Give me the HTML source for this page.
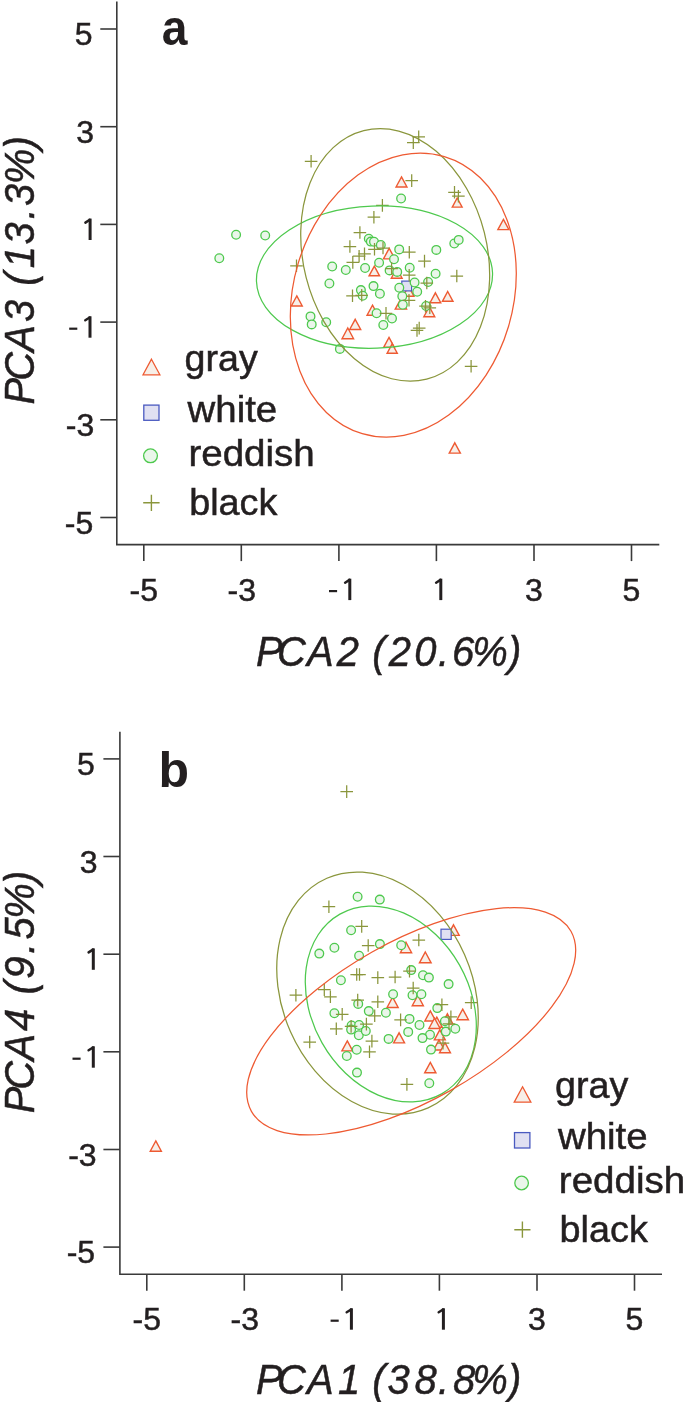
<!DOCTYPE html>
<html><head><meta charset="utf-8"><style>
html,body{margin:0;padding:0;background:#fff;}
body{width:685px;height:1402px;overflow:hidden;}
svg{display:block;will-change:transform;}
text{font-family:"Liberation Sans",sans-serif;fill:#231f20;}
.tk{font-size:32px;stroke:#231f20;stroke-width:0.5px;}
.lbl{font-size:50px;font-weight:bold;}
.ttl{font-size:42.5px;font-style:italic;stroke:#231f20;stroke-width:0.5px;}
.lg{font-size:36px;stroke:#231f20;stroke-width:0.5px;}
</style></head><body>
<svg width="685" height="1402" viewBox="0 0 685 1402">
<path d="M116.8 1.5V544.6H659.3" stroke="#3a3a3a" stroke-width="1.6" fill="none"/>
<path d="M100.3 517.5H116.8" stroke="#3a3a3a" stroke-width="1.6"/>
<path d="M143.8 544.6V561.1" stroke="#3a3a3a" stroke-width="1.6"/>
<path d="M100.3 419.8H116.8" stroke="#3a3a3a" stroke-width="1.6"/>
<path d="M241.3 544.6V561.1" stroke="#3a3a3a" stroke-width="1.6"/>
<path d="M100.3 322.1H116.8" stroke="#3a3a3a" stroke-width="1.6"/>
<path d="M338.9 544.6V561.1" stroke="#3a3a3a" stroke-width="1.6"/>
<path d="M100.3 224.4H116.8" stroke="#3a3a3a" stroke-width="1.6"/>
<path d="M436.4 544.6V561.1" stroke="#3a3a3a" stroke-width="1.6"/>
<path d="M100.3 126.7H116.8" stroke="#3a3a3a" stroke-width="1.6"/>
<path d="M534.0 544.6V561.1" stroke="#3a3a3a" stroke-width="1.6"/>
<path d="M100.3 29.0H116.8" stroke="#3a3a3a" stroke-width="1.6"/>
<path d="M631.5 544.6V561.1" stroke="#3a3a3a" stroke-width="1.6"/>
<text x="93.2" y="533.5" text-anchor="end" class="tk">-5</text>
<text x="143.8" y="600.5" text-anchor="middle" class="tk">-5</text>
<text x="94.2" y="435.8" text-anchor="end" class="tk">-3</text>
<text x="241.8" y="600.5" text-anchor="middle" class="tk">-3</text>
<path d="M88.50 316.30H91.50V337.70H88.50Z" fill="#231f20"/>
<path d="M89.70 317.50L85.30 320.30" stroke="#231f20" stroke-width="2.5" stroke-linecap="round" fill="none"/>
<rect x="69.20" y="327.60" width="8.1" height="2.2" fill="#231f20"/>
<path d="M348.30 578.70H351.30V600.10H348.30Z" fill="#231f20"/>
<path d="M349.50 579.90L345.10 582.70" stroke="#231f20" stroke-width="2.5" stroke-linecap="round" fill="none"/>
<rect x="329.00" y="590.00" width="8.1" height="2.2" fill="#231f20"/>
<path d="M88.60 218.60H91.60V240.00H88.60Z" fill="#231f20"/>
<path d="M89.80 219.80L85.40 222.60" stroke="#231f20" stroke-width="2.5" stroke-linecap="round" fill="none"/>
<path d="M439.30 578.70H442.30V600.10H439.30Z" fill="#231f20"/>
<path d="M440.50 579.90L436.10 582.70" stroke="#231f20" stroke-width="2.5" stroke-linecap="round" fill="none"/>
<text x="94.1" y="142.7" text-anchor="end" class="tk">3</text>
<text x="534.0" y="600.5" text-anchor="middle" class="tk">3</text>
<text x="92.6" y="45.0" text-anchor="end" class="tk">5</text>
<text x="631.5" y="600.5" text-anchor="middle" class="tk">5</text>
<text x="161.7" y="45" class="lbl" textLength="25.7" lengthAdjust="spacingAndGlyphs">a</text>
<text transform="scale(0.94 1)" x="272.33 294.80 326.74 358.30 368.30 395.93 413.46 440.57 465.98 480.77 502.37 540.46" y="666.3" class="ttl">PCA2 (20.6%)</text>
<text transform="translate(33.9 401.9) rotate(-90) scale(0.94 1)" x="-2.88 22.46 53.39 85.10 95.10 123.64 142.25 167.44 194.17 208.40 231.51 268.54" y="0" class="ttl">PCA3 (13.3%)</text>
<path d="M401.50 176.90L406.95 187.00L396.05 187.00Z" fill="#f7efe8" stroke="#ee5a32" stroke-width="1.4" stroke-linejoin="miter"/>
<path d="M457.20 198.00L462.11 207.10L452.29 207.10Z" fill="#f7efe8" stroke="#ee5a32" stroke-width="1.4" stroke-linejoin="miter"/>
<path d="M503.40 219.40L508.91 229.60L497.89 229.60Z" fill="#f7efe8" stroke="#ee5a32" stroke-width="1.4" stroke-linejoin="miter"/>
<path d="M447.70 291.50L452.99 301.30L442.41 301.30Z" fill="#f7efe8" stroke="#ee5a32" stroke-width="1.4" stroke-linejoin="miter"/>
<path d="M454.80 442.80L460.36 453.10L449.24 453.10Z" fill="#f7efe8" stroke="#ee5a32" stroke-width="1.4" stroke-linejoin="miter"/>
<path d="M296.80 295.90L302.25 306.00L291.35 306.00Z" fill="#f7efe8" stroke="#ee5a32" stroke-width="1.4" stroke-linejoin="miter"/>
<path d="M389.20 248.30L394.92 258.90L383.48 258.90Z" fill="#f7efe8" stroke="#ee5a32" stroke-width="1.4" stroke-linejoin="miter"/>
<path d="M374.30 266.10L379.54 275.80L369.06 275.80Z" fill="#f7efe8" stroke="#ee5a32" stroke-width="1.4" stroke-linejoin="miter"/>
<path d="M396.70 268.20L402.10 278.20L391.30 278.20Z" fill="#f7efe8" stroke="#ee5a32" stroke-width="1.4" stroke-linejoin="miter"/>
<path d="M400.90 298.60L406.57 309.10L395.23 309.10Z" fill="#f7efe8" stroke="#ee5a32" stroke-width="1.4" stroke-linejoin="miter"/>
<path d="M372.50 305.10L377.95 315.20L367.05 315.20Z" fill="#f7efe8" stroke="#ee5a32" stroke-width="1.4" stroke-linejoin="miter"/>
<path d="M355.20 319.30L360.71 329.50L349.69 329.50Z" fill="#f7efe8" stroke="#ee5a32" stroke-width="1.4" stroke-linejoin="miter"/>
<path d="M347.80 328.00L353.58 338.70L342.02 338.70Z" fill="#f7efe8" stroke="#ee5a32" stroke-width="1.4" stroke-linejoin="miter"/>
<path d="M389.00 337.40L394.35 347.30L383.65 347.30Z" fill="#f7efe8" stroke="#ee5a32" stroke-width="1.4" stroke-linejoin="miter"/>
<path d="M392.20 343.80L397.28 353.20L387.12 353.20Z" fill="#f7efe8" stroke="#ee5a32" stroke-width="1.4" stroke-linejoin="miter"/>
<path d="M435.40 292.80L440.75 302.70L430.05 302.70Z" fill="#f7efe8" stroke="#ee5a32" stroke-width="1.4" stroke-linejoin="miter"/>
<path d="M429.30 306.60L434.75 316.70L423.85 316.70Z" fill="#f7efe8" stroke="#ee5a32" stroke-width="1.4" stroke-linejoin="miter"/>
<path d="M408.50 286.10L413.95 296.20L403.05 296.20Z" fill="#f7efe8" stroke="#ee5a32" stroke-width="1.4" stroke-linejoin="miter"/>
<rect x="401.8" y="281.1" width="9.8" height="9.8" fill="#e0e0f2" stroke="#4a5ac0" stroke-width="1.2"/>
<circle cx="236.1" cy="234.8" r="4.35" fill="#eaf6ea" stroke="#4ec94e" stroke-width="1.3"/>
<circle cx="265.2" cy="235.5" r="4.35" fill="#eaf6ea" stroke="#4ec94e" stroke-width="1.3"/>
<circle cx="219.3" cy="258.3" r="4.35" fill="#eaf6ea" stroke="#4ec94e" stroke-width="1.3"/>
<circle cx="401.1" cy="198.5" r="4.35" fill="#eaf6ea" stroke="#4ec94e" stroke-width="1.3"/>
<circle cx="454.3" cy="243.5" r="4.35" fill="#eaf6ea" stroke="#4ec94e" stroke-width="1.3"/>
<circle cx="458.7" cy="239.9" r="4.35" fill="#eaf6ea" stroke="#4ec94e" stroke-width="1.3"/>
<circle cx="436.3" cy="249.9" r="4.35" fill="#eaf6ea" stroke="#4ec94e" stroke-width="1.3"/>
<circle cx="368.8" cy="238.8" r="4.35" fill="#eaf6ea" stroke="#4ec94e" stroke-width="1.3"/>
<circle cx="370.8" cy="241.6" r="4.35" fill="#eaf6ea" stroke="#4ec94e" stroke-width="1.3"/>
<circle cx="374.0" cy="241.8" r="4.35" fill="#eaf6ea" stroke="#4ec94e" stroke-width="1.3"/>
<circle cx="380.8" cy="245.0" r="4.35" fill="#eaf6ea" stroke="#4ec94e" stroke-width="1.3"/>
<circle cx="399.2" cy="249.4" r="4.35" fill="#eaf6ea" stroke="#4ec94e" stroke-width="1.3"/>
<circle cx="394.0" cy="259.2" r="4.35" fill="#eaf6ea" stroke="#4ec94e" stroke-width="1.3"/>
<circle cx="379.1" cy="262.7" r="4.35" fill="#eaf6ea" stroke="#4ec94e" stroke-width="1.3"/>
<circle cx="365.1" cy="268.0" r="4.35" fill="#eaf6ea" stroke="#4ec94e" stroke-width="1.3"/>
<circle cx="345.8" cy="270.0" r="4.35" fill="#eaf6ea" stroke="#4ec94e" stroke-width="1.3"/>
<circle cx="332.2" cy="266.5" r="4.35" fill="#eaf6ea" stroke="#4ec94e" stroke-width="1.3"/>
<circle cx="329.4" cy="283.5" r="4.35" fill="#eaf6ea" stroke="#4ec94e" stroke-width="1.3"/>
<circle cx="310.5" cy="316.4" r="4.35" fill="#eaf6ea" stroke="#4ec94e" stroke-width="1.3"/>
<circle cx="311.7" cy="324.4" r="4.35" fill="#eaf6ea" stroke="#4ec94e" stroke-width="1.3"/>
<circle cx="326.2" cy="322.3" r="4.35" fill="#eaf6ea" stroke="#4ec94e" stroke-width="1.3"/>
<circle cx="339.9" cy="348.9" r="4.35" fill="#eaf6ea" stroke="#4ec94e" stroke-width="1.3"/>
<circle cx="389.6" cy="270.4" r="4.35" fill="#eaf6ea" stroke="#4ec94e" stroke-width="1.3"/>
<circle cx="397.2" cy="271.9" r="4.35" fill="#eaf6ea" stroke="#4ec94e" stroke-width="1.3"/>
<circle cx="409.7" cy="267.7" r="4.35" fill="#eaf6ea" stroke="#4ec94e" stroke-width="1.3"/>
<circle cx="373.5" cy="286.1" r="4.35" fill="#eaf6ea" stroke="#4ec94e" stroke-width="1.3"/>
<circle cx="379.9" cy="293.7" r="4.35" fill="#eaf6ea" stroke="#4ec94e" stroke-width="1.3"/>
<circle cx="360.9" cy="290.1" r="4.35" fill="#eaf6ea" stroke="#4ec94e" stroke-width="1.3"/>
<circle cx="362.7" cy="295.8" r="4.35" fill="#eaf6ea" stroke="#4ec94e" stroke-width="1.3"/>
<circle cx="399.3" cy="287.8" r="4.35" fill="#eaf6ea" stroke="#4ec94e" stroke-width="1.3"/>
<circle cx="402.3" cy="296.2" r="4.35" fill="#eaf6ea" stroke="#4ec94e" stroke-width="1.3"/>
<circle cx="402.8" cy="304.8" r="4.35" fill="#eaf6ea" stroke="#4ec94e" stroke-width="1.3"/>
<circle cx="376.6" cy="313.3" r="4.35" fill="#eaf6ea" stroke="#4ec94e" stroke-width="1.3"/>
<circle cx="392.0" cy="318.5" r="4.35" fill="#eaf6ea" stroke="#4ec94e" stroke-width="1.3"/>
<circle cx="383.3" cy="325.0" r="4.35" fill="#eaf6ea" stroke="#4ec94e" stroke-width="1.3"/>
<circle cx="414.6" cy="282.5" r="4.35" fill="#eaf6ea" stroke="#4ec94e" stroke-width="1.3"/>
<circle cx="417.2" cy="291.7" r="4.35" fill="#eaf6ea" stroke="#4ec94e" stroke-width="1.3"/>
<circle cx="435.6" cy="273.8" r="4.35" fill="#eaf6ea" stroke="#4ec94e" stroke-width="1.3"/>
<circle cx="428.1" cy="282.0" r="4.35" fill="#eaf6ea" stroke="#4ec94e" stroke-width="1.3"/>
<circle cx="426.1" cy="306.0" r="4.35" fill="#eaf6ea" stroke="#4ec94e" stroke-width="1.3"/>
<path d="M304.8 161.3H317.4M311.1 155.0V167.6" stroke="#8a963c" stroke-width="1.25" fill="none"/>
<path d="M290.2 265.8H302.8M296.5 259.5V272.1" stroke="#8a963c" stroke-width="1.25" fill="none"/>
<path d="M407.0 142.6H419.6M413.3 136.3V148.9" stroke="#8a963c" stroke-width="1.25" fill="none"/>
<path d="M412.4 136.8H425.0M418.7 130.5V143.1" stroke="#8a963c" stroke-width="1.25" fill="none"/>
<path d="M405.4 180.6H418.0M411.7 174.3V186.9" stroke="#8a963c" stroke-width="1.25" fill="none"/>
<path d="M448.2 192.3H460.8M454.5 186.0V198.6" stroke="#8a963c" stroke-width="1.25" fill="none"/>
<path d="M452.1 196.2H464.7M458.4 189.9V202.5" stroke="#8a963c" stroke-width="1.25" fill="none"/>
<path d="M376.1 205.4H388.7M382.4 199.1V211.7" stroke="#8a963c" stroke-width="1.25" fill="none"/>
<path d="M367.6 217.2H380.2M373.9 210.9V223.5" stroke="#8a963c" stroke-width="1.25" fill="none"/>
<path d="M353.6 232.5H366.2M359.9 226.2V238.8" stroke="#8a963c" stroke-width="1.25" fill="none"/>
<path d="M343.6 246.5H356.2M349.9 240.2V252.8" stroke="#8a963c" stroke-width="1.25" fill="none"/>
<path d="M346.5 262.4H359.1M352.8 256.1V268.7" stroke="#8a963c" stroke-width="1.25" fill="none"/>
<path d="M352.8 256.2H365.4M359.1 249.9V262.5" stroke="#8a963c" stroke-width="1.25" fill="none"/>
<path d="M358.2 253.9H370.8M364.5 247.6V260.2" stroke="#8a963c" stroke-width="1.25" fill="none"/>
<path d="M368.2 249.3H380.8M374.5 243.0V255.6" stroke="#8a963c" stroke-width="1.25" fill="none"/>
<path d="M376.7 248.0H389.3M383.0 241.7V254.3" stroke="#8a963c" stroke-width="1.25" fill="none"/>
<path d="M403.0 252.2H415.6M409.3 245.9V258.5" stroke="#8a963c" stroke-width="1.25" fill="none"/>
<path d="M418.2 261.1H430.8M424.5 254.8V267.4" stroke="#8a963c" stroke-width="1.25" fill="none"/>
<path d="M450.5 276.0H463.1M456.8 269.7V282.3" stroke="#8a963c" stroke-width="1.25" fill="none"/>
<path d="M464.8 366.3H477.4M471.1 360.0V372.6" stroke="#8a963c" stroke-width="1.25" fill="none"/>
<path d="M385.3 268.6H397.9M391.6 262.3V274.9" stroke="#8a963c" stroke-width="1.25" fill="none"/>
<path d="M402.9 275.2H415.5M409.2 268.9V281.5" stroke="#8a963c" stroke-width="1.25" fill="none"/>
<path d="M346.2 295.8H358.8M352.5 289.5V302.1" stroke="#8a963c" stroke-width="1.25" fill="none"/>
<path d="M355.4 295.3H368.0M361.7 289.0V301.6" stroke="#8a963c" stroke-width="1.25" fill="none"/>
<path d="M402.7 300.3H415.3M409.0 294.0V306.6" stroke="#8a963c" stroke-width="1.25" fill="none"/>
<path d="M379.7 313.3H392.3M386.0 307.0V319.6" stroke="#8a963c" stroke-width="1.25" fill="none"/>
<path d="M420.5 283.0H433.1M426.8 276.7V289.3" stroke="#8a963c" stroke-width="1.25" fill="none"/>
<path d="M419.2 306.2H431.8M425.5 299.9V312.5" stroke="#8a963c" stroke-width="1.25" fill="none"/>
<path d="M423.5 307.8H436.1M429.8 301.5V314.1" stroke="#8a963c" stroke-width="1.25" fill="none"/>
<path d="M412.9 328.1H425.5M419.2 321.8V334.4" stroke="#8a963c" stroke-width="1.25" fill="none"/>
<path d="M410.7 330.4H423.3M417.0 324.1V336.7" stroke="#8a963c" stroke-width="1.25" fill="none"/>
<ellipse cx="374.5" cy="277.1" rx="118.1" ry="71.1" transform="rotate(-2.1 374.5 277.1)" fill="none" stroke="#4ec94e" stroke-width="1.25"/>
<ellipse cx="395.2" cy="254.9" rx="91.9" ry="128.2" transform="rotate(-14.2 395.2 254.9)" fill="none" stroke="#8a963c" stroke-width="1.25"/>
<ellipse cx="403.3" cy="295.1" rx="109.8" ry="144.5" transform="rotate(16.5 403.3 295.1)" fill="none" stroke="#ee5a32" stroke-width="1.25"/>
<path d="M151.45 359.20L159.87 374.80L143.03 374.80Z" fill="#f7efe8" stroke="#ee5a32" stroke-width="1.3" stroke-linejoin="miter"/>
<rect x="143.8" y="405.1" width="15.2" height="15.2" fill="#e0e0f2" stroke="#4a5ac0" stroke-width="1.3"/>
<circle cx="150.5" cy="455.8" r="6.9" fill="#eaf6ea" stroke="#4ec94e" stroke-width="1.3"/>
<path d="M143.2 502.8H159.6M151.4 494.7V510.9" stroke="#8a963c" stroke-width="1.4" fill="none"/>
<text x="184.6" y="371.1" class="lg" textLength="73.2" lengthAdjust="spacingAndGlyphs">gray</text>
<text x="187.6" y="421.8" class="lg" textLength="89.6" lengthAdjust="spacingAndGlyphs">white</text>
<text x="188.4" y="466.4" class="lg" textLength="126.4" lengthAdjust="spacingAndGlyphs">reddish</text>
<text x="189.2" y="515.4" class="lg" textLength="88.2" lengthAdjust="spacingAndGlyphs">black</text>
<path d="M119.9 731.7V1274.2H662.0" stroke="#3a3a3a" stroke-width="1.6" fill="none"/>
<path d="M103.4 1247.1H119.9" stroke="#3a3a3a" stroke-width="1.6"/>
<path d="M146.8 1274.2V1290.7" stroke="#3a3a3a" stroke-width="1.6"/>
<path d="M103.4 1149.5H119.9" stroke="#3a3a3a" stroke-width="1.6"/>
<path d="M244.3 1274.2V1290.7" stroke="#3a3a3a" stroke-width="1.6"/>
<path d="M103.4 1051.8H119.9" stroke="#3a3a3a" stroke-width="1.6"/>
<path d="M341.9 1274.2V1290.7" stroke="#3a3a3a" stroke-width="1.6"/>
<path d="M103.4 954.2H119.9" stroke="#3a3a3a" stroke-width="1.6"/>
<path d="M439.4 1274.2V1290.7" stroke="#3a3a3a" stroke-width="1.6"/>
<path d="M103.4 856.5H119.9" stroke="#3a3a3a" stroke-width="1.6"/>
<path d="M537.0 1274.2V1290.7" stroke="#3a3a3a" stroke-width="1.6"/>
<path d="M103.4 758.9H119.9" stroke="#3a3a3a" stroke-width="1.6"/>
<path d="M634.5 1274.2V1290.7" stroke="#3a3a3a" stroke-width="1.6"/>
<text x="95.1" y="1263.1" text-anchor="end" class="tk">-5</text>
<text x="146.8" y="1330.3" text-anchor="middle" class="tk">-5</text>
<text x="96.6" y="1165.5" text-anchor="end" class="tk">-3</text>
<text x="244.8" y="1330.3" text-anchor="middle" class="tk">-3</text>
<path d="M91.80 1046.30H94.80V1067.70H91.80Z" fill="#231f20"/>
<path d="M93.00 1047.50L88.60 1050.30" stroke="#231f20" stroke-width="2.5" stroke-linecap="round" fill="none"/>
<rect x="72.50" y="1057.60" width="8.1" height="2.2" fill="#231f20"/>
<path d="M349.90 1308.30H352.90V1329.70H349.90Z" fill="#231f20"/>
<path d="M351.10 1309.50L346.70 1312.30" stroke="#231f20" stroke-width="2.5" stroke-linecap="round" fill="none"/>
<rect x="330.60" y="1319.60" width="8.1" height="2.2" fill="#231f20"/>
<path d="M91.80 948.40H94.80V969.80H91.80Z" fill="#231f20"/>
<path d="M93.00 949.60L88.60 952.40" stroke="#231f20" stroke-width="2.5" stroke-linecap="round" fill="none"/>
<path d="M441.90 1308.30H444.90V1329.70H441.90Z" fill="#231f20"/>
<path d="M443.10 1309.50L438.70 1312.30" stroke="#231f20" stroke-width="2.5" stroke-linecap="round" fill="none"/>
<text x="97.5" y="872.5" text-anchor="end" class="tk">3</text>
<text x="537.0" y="1330.3" text-anchor="middle" class="tk">3</text>
<text x="94.8" y="774.9" text-anchor="end" class="tk">5</text>
<text x="634.5" y="1330.3" text-anchor="middle" class="tk">5</text>
<text x="158.6" y="786.9" class="lbl">b</text>
<path d="M155.80 1140.90L161.36 1151.20L150.24 1151.20Z" fill="#f7efe8" stroke="#ee5a32" stroke-width="1.4" stroke-linejoin="miter"/>
<path d="M406.00 942.30L411.62 952.70L400.38 952.70Z" fill="#f7efe8" stroke="#ee5a32" stroke-width="1.4" stroke-linejoin="miter"/>
<path d="M425.30 952.00L431.13 962.80L419.47 962.80Z" fill="#f7efe8" stroke="#ee5a32" stroke-width="1.4" stroke-linejoin="miter"/>
<path d="M453.50 924.80L459.22 935.40L447.78 935.40Z" fill="#f7efe8" stroke="#ee5a32" stroke-width="1.4" stroke-linejoin="miter"/>
<path d="M392.60 997.20L398.16 1007.50L387.04 1007.50Z" fill="#f7efe8" stroke="#ee5a32" stroke-width="1.4" stroke-linejoin="miter"/>
<path d="M417.80 995.40L423.36 1005.70L412.24 1005.70Z" fill="#f7efe8" stroke="#ee5a32" stroke-width="1.4" stroke-linejoin="miter"/>
<path d="M462.70 1009.10L468.42 1019.70L456.98 1019.70Z" fill="#f7efe8" stroke="#ee5a32" stroke-width="1.4" stroke-linejoin="miter"/>
<path d="M430.30 1010.90L435.75 1021.00L424.85 1021.00Z" fill="#f7efe8" stroke="#ee5a32" stroke-width="1.4" stroke-linejoin="miter"/>
<path d="M436.80 1017.10L442.25 1027.20L431.35 1027.20Z" fill="#f7efe8" stroke="#ee5a32" stroke-width="1.4" stroke-linejoin="miter"/>
<path d="M434.50 1018.10L440.12 1028.50L428.88 1028.50Z" fill="#f7efe8" stroke="#ee5a32" stroke-width="1.4" stroke-linejoin="miter"/>
<path d="M439.80 1029.80L445.25 1039.90L434.35 1039.90Z" fill="#f7efe8" stroke="#ee5a32" stroke-width="1.4" stroke-linejoin="miter"/>
<path d="M439.00 1040.00L444.40 1050.00L433.60 1050.00Z" fill="#f7efe8" stroke="#ee5a32" stroke-width="1.4" stroke-linejoin="miter"/>
<path d="M445.00 1042.60L450.45 1052.70L439.55 1052.70Z" fill="#f7efe8" stroke="#ee5a32" stroke-width="1.4" stroke-linejoin="miter"/>
<path d="M447.40 1013.80L452.96 1024.10L441.84 1024.10Z" fill="#f7efe8" stroke="#ee5a32" stroke-width="1.4" stroke-linejoin="miter"/>
<path d="M399.10 1032.80L404.55 1042.90L393.65 1042.90Z" fill="#f7efe8" stroke="#ee5a32" stroke-width="1.4" stroke-linejoin="miter"/>
<path d="M347.30 1040.90L352.70 1050.90L341.90 1050.90Z" fill="#f7efe8" stroke="#ee5a32" stroke-width="1.4" stroke-linejoin="miter"/>
<path d="M430.30 1062.40L435.92 1072.80L424.68 1072.80Z" fill="#f7efe8" stroke="#ee5a32" stroke-width="1.4" stroke-linejoin="miter"/>
<rect x="441.0" y="929.2" width="10.2" height="10.2" fill="#e0e0f2" stroke="#4a5ac0" stroke-width="1.2"/>
<circle cx="357.6" cy="896.8" r="4.35" fill="#eaf6ea" stroke="#4ec94e" stroke-width="1.3"/>
<circle cx="379.8" cy="899.6" r="4.35" fill="#eaf6ea" stroke="#4ec94e" stroke-width="1.3"/>
<circle cx="351.1" cy="930.3" r="4.35" fill="#eaf6ea" stroke="#4ec94e" stroke-width="1.3"/>
<circle cx="334.4" cy="947.7" r="4.35" fill="#eaf6ea" stroke="#4ec94e" stroke-width="1.3"/>
<circle cx="319.3" cy="953.6" r="4.35" fill="#eaf6ea" stroke="#4ec94e" stroke-width="1.3"/>
<circle cx="359.1" cy="955.7" r="4.35" fill="#eaf6ea" stroke="#4ec94e" stroke-width="1.3"/>
<circle cx="379.9" cy="944.1" r="4.35" fill="#eaf6ea" stroke="#4ec94e" stroke-width="1.3"/>
<circle cx="401.2" cy="945.2" r="4.35" fill="#eaf6ea" stroke="#4ec94e" stroke-width="1.3"/>
<circle cx="340.9" cy="980.3" r="4.35" fill="#eaf6ea" stroke="#4ec94e" stroke-width="1.3"/>
<circle cx="358.2" cy="1003.9" r="4.35" fill="#eaf6ea" stroke="#4ec94e" stroke-width="1.3"/>
<circle cx="411.2" cy="970.1" r="4.35" fill="#eaf6ea" stroke="#4ec94e" stroke-width="1.3"/>
<circle cx="423.0" cy="975.3" r="4.35" fill="#eaf6ea" stroke="#4ec94e" stroke-width="1.3"/>
<circle cx="428.9" cy="977.6" r="4.35" fill="#eaf6ea" stroke="#4ec94e" stroke-width="1.3"/>
<circle cx="448.6" cy="984.1" r="4.35" fill="#eaf6ea" stroke="#4ec94e" stroke-width="1.3"/>
<circle cx="393.1" cy="994.2" r="4.35" fill="#eaf6ea" stroke="#4ec94e" stroke-width="1.3"/>
<circle cx="412.5" cy="995.2" r="4.35" fill="#eaf6ea" stroke="#4ec94e" stroke-width="1.3"/>
<circle cx="421.4" cy="994.2" r="4.35" fill="#eaf6ea" stroke="#4ec94e" stroke-width="1.3"/>
<circle cx="334.4" cy="1013.2" r="4.35" fill="#eaf6ea" stroke="#4ec94e" stroke-width="1.3"/>
<circle cx="368.8" cy="1011.1" r="4.35" fill="#eaf6ea" stroke="#4ec94e" stroke-width="1.3"/>
<circle cx="351.6" cy="1025.5" r="4.35" fill="#eaf6ea" stroke="#4ec94e" stroke-width="1.3"/>
<circle cx="351.1" cy="1029.6" r="4.35" fill="#eaf6ea" stroke="#4ec94e" stroke-width="1.3"/>
<circle cx="359.1" cy="1025.0" r="4.35" fill="#eaf6ea" stroke="#4ec94e" stroke-width="1.3"/>
<circle cx="358.8" cy="1035.3" r="4.35" fill="#eaf6ea" stroke="#4ec94e" stroke-width="1.3"/>
<circle cx="365.8" cy="1031.0" r="4.35" fill="#eaf6ea" stroke="#4ec94e" stroke-width="1.3"/>
<circle cx="356.7" cy="1049.8" r="4.35" fill="#eaf6ea" stroke="#4ec94e" stroke-width="1.3"/>
<circle cx="346.8" cy="1056.0" r="4.35" fill="#eaf6ea" stroke="#4ec94e" stroke-width="1.3"/>
<circle cx="357.0" cy="1072.6" r="4.35" fill="#eaf6ea" stroke="#4ec94e" stroke-width="1.3"/>
<circle cx="385.9" cy="1012.8" r="4.35" fill="#eaf6ea" stroke="#4ec94e" stroke-width="1.3"/>
<circle cx="409.5" cy="1018.9" r="4.35" fill="#eaf6ea" stroke="#4ec94e" stroke-width="1.3"/>
<circle cx="419.5" cy="1025.0" r="4.35" fill="#eaf6ea" stroke="#4ec94e" stroke-width="1.3"/>
<circle cx="408.2" cy="1031.9" r="4.35" fill="#eaf6ea" stroke="#4ec94e" stroke-width="1.3"/>
<circle cx="430.0" cy="1034.7" r="4.35" fill="#eaf6ea" stroke="#4ec94e" stroke-width="1.3"/>
<circle cx="422.5" cy="1038.1" r="4.35" fill="#eaf6ea" stroke="#4ec94e" stroke-width="1.3"/>
<circle cx="388.6" cy="1038.9" r="4.35" fill="#eaf6ea" stroke="#4ec94e" stroke-width="1.3"/>
<circle cx="431.0" cy="1049.6" r="4.35" fill="#eaf6ea" stroke="#4ec94e" stroke-width="1.3"/>
<circle cx="429.3" cy="1083.3" r="4.35" fill="#eaf6ea" stroke="#4ec94e" stroke-width="1.3"/>
<circle cx="437.3" cy="1008.1" r="4.35" fill="#eaf6ea" stroke="#4ec94e" stroke-width="1.3"/>
<circle cx="444.9" cy="1021.3" r="4.35" fill="#eaf6ea" stroke="#4ec94e" stroke-width="1.3"/>
<circle cx="455.3" cy="1028.8" r="4.35" fill="#eaf6ea" stroke="#4ec94e" stroke-width="1.3"/>
<circle cx="445.8" cy="1031.6" r="4.35" fill="#eaf6ea" stroke="#4ec94e" stroke-width="1.3"/>
<path d="M340.4 791.6H353.0M346.7 785.3V797.9" stroke="#8a963c" stroke-width="1.25" fill="none"/>
<path d="M322.6 906.7H335.2M328.9 900.4V913.0" stroke="#8a963c" stroke-width="1.25" fill="none"/>
<path d="M355.4 926.4H368.0M361.7 920.1V932.7" stroke="#8a963c" stroke-width="1.25" fill="none"/>
<path d="M361.9 945.5H374.5M368.2 939.2V951.8" stroke="#8a963c" stroke-width="1.25" fill="none"/>
<path d="M412.5 940.0H425.1M418.8 933.7V946.3" stroke="#8a963c" stroke-width="1.25" fill="none"/>
<path d="M289.6 995.2H302.2M295.9 988.9V1001.5" stroke="#8a963c" stroke-width="1.25" fill="none"/>
<path d="M318.0 989.7H330.6M324.3 983.4V996.0" stroke="#8a963c" stroke-width="1.25" fill="none"/>
<path d="M324.1 996.8H336.7M330.4 990.5V1003.1" stroke="#8a963c" stroke-width="1.25" fill="none"/>
<path d="M350.4 974.5H363.0M356.7 968.2V980.8" stroke="#8a963c" stroke-width="1.25" fill="none"/>
<path d="M353.2 974.5H365.8M359.5 968.2V980.8" stroke="#8a963c" stroke-width="1.25" fill="none"/>
<path d="M351.4 1000.1H364.0M357.7 993.8V1006.4" stroke="#8a963c" stroke-width="1.25" fill="none"/>
<path d="M403.2 971.2H415.8M409.5 964.9V977.5" stroke="#8a963c" stroke-width="1.25" fill="none"/>
<path d="M371.5 977.6H384.1M377.8 971.3V983.9" stroke="#8a963c" stroke-width="1.25" fill="none"/>
<path d="M388.8 977.0H401.4M395.1 970.7V983.3" stroke="#8a963c" stroke-width="1.25" fill="none"/>
<path d="M406.9 988.0H419.5M413.2 981.7V994.3" stroke="#8a963c" stroke-width="1.25" fill="none"/>
<path d="M371.5 1001.8H384.1M377.8 995.5V1008.1" stroke="#8a963c" stroke-width="1.25" fill="none"/>
<path d="M335.9 1014.3H348.5M342.2 1008.0V1020.6" stroke="#8a963c" stroke-width="1.25" fill="none"/>
<path d="M330.0 1028.8H342.6M336.3 1022.5V1035.1" stroke="#8a963c" stroke-width="1.25" fill="none"/>
<path d="M344.8 1026.4H357.4M351.1 1020.1V1032.7" stroke="#8a963c" stroke-width="1.25" fill="none"/>
<path d="M360.1 1024.1H372.7M366.4 1017.8V1030.4" stroke="#8a963c" stroke-width="1.25" fill="none"/>
<path d="M303.4 1042.0H316.0M309.7 1035.7V1048.3" stroke="#8a963c" stroke-width="1.25" fill="none"/>
<path d="M363.2 1051.8H375.8M369.5 1045.5V1058.1" stroke="#8a963c" stroke-width="1.25" fill="none"/>
<path d="M368.4 1015.8H381.0M374.7 1009.5V1022.1" stroke="#8a963c" stroke-width="1.25" fill="none"/>
<path d="M394.3 1019.9H406.9M400.6 1013.6V1026.2" stroke="#8a963c" stroke-width="1.25" fill="none"/>
<path d="M365.6 1041.1H378.2M371.9 1034.8V1047.4" stroke="#8a963c" stroke-width="1.25" fill="none"/>
<path d="M400.6 1084.4H413.2M406.9 1078.1V1090.7" stroke="#8a963c" stroke-width="1.25" fill="none"/>
<path d="M464.9 1002.6H477.5M471.2 996.3V1008.9" stroke="#8a963c" stroke-width="1.25" fill="none"/>
<path d="M435.6 1004.7H448.2M441.9 998.4V1011.0" stroke="#8a963c" stroke-width="1.25" fill="none"/>
<path d="M444.6 1016.8H457.2M450.9 1010.5V1023.1" stroke="#8a963c" stroke-width="1.25" fill="none"/>
<path d="M442.7 1023.8H455.3M449.0 1017.5V1030.1" stroke="#8a963c" stroke-width="1.25" fill="none"/>
<path d="M436.7 1043.2H449.3M443.0 1036.9V1049.5" stroke="#8a963c" stroke-width="1.25" fill="none"/>
<ellipse cx="390.8" cy="1004.0" rx="79.0" ry="103.3" transform="rotate(-29.5 390.8 1004.0)" fill="none" stroke="#4ec94e" stroke-width="1.25"/>
<ellipse cx="377.5" cy="993.1" rx="95.2" ry="125.5" transform="rotate(-23.8 377.5 993.1)" fill="none" stroke="#8a963c" stroke-width="1.25"/>
<ellipse cx="411.2" cy="1021.3" rx="183.4" ry="79.6" transform="rotate(-29.4 411.2 1021.3)" fill="none" stroke="#ee5a32" stroke-width="1.25"/>
<path d="M522.55 1086.80L530.87 1102.20L514.23 1102.20Z" fill="#f7efe8" stroke="#ee5a32" stroke-width="1.3" stroke-linejoin="miter"/>
<rect x="514.5" y="1132.6" width="15.4" height="15.4" fill="#e0e0f2" stroke="#4a5ac0" stroke-width="1.3"/>
<circle cx="521.6" cy="1183.0" r="6.8" fill="#eaf6ea" stroke="#4ec94e" stroke-width="1.3"/>
<path d="M514.3 1229.7H530.5M522.4 1221.6V1237.8" stroke="#8a963c" stroke-width="1.4" fill="none"/>
<text x="555.0" y="1097.9" class="lg" textLength="73.2" lengthAdjust="spacingAndGlyphs">gray</text>
<text x="558.0" y="1148.6" class="lg" textLength="89.6" lengthAdjust="spacingAndGlyphs">white</text>
<text x="558.8" y="1193.2" class="lg" textLength="126.4" lengthAdjust="spacingAndGlyphs">reddish</text>
<text x="559.6" y="1242.2" class="lg" textLength="88.2" lengthAdjust="spacingAndGlyphs">black</text>
<text transform="scale(0.94 1)" x="272.33 294.80 326.74 359.53 369.53 395.93 412.34 440.88 465.98 481.89 502.37 540.46" y="1393.6" class="ttl">PCA1 (38.8%)</text>
<text transform="translate(33.9 1110.7) rotate(-90) scale(0.94 1)" x="-2.78 22.20 53.55 84.70 94.70 123.70 140.44 166.72 182.23 204.28 240.83" y="0" class="ttl">PCA4 (9.5%)</text>
</svg>
</body></html>
